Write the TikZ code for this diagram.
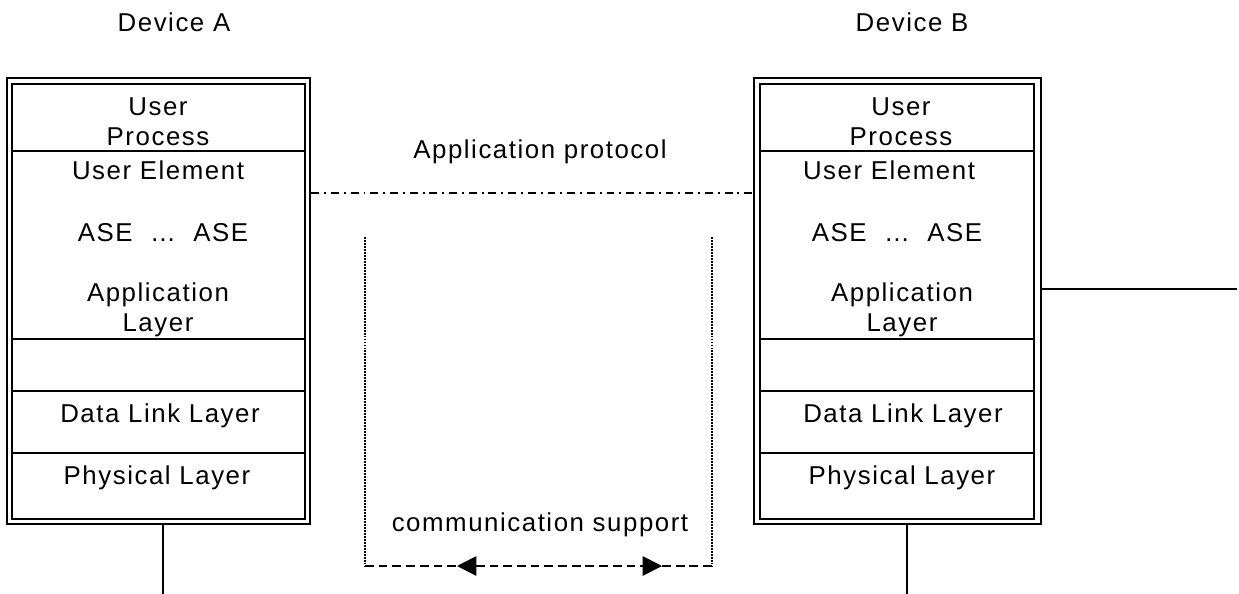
\documentclass[tikz,border=0pt]{standalone}
\usepackage{fontspec}
\setmainfont{Liberation Sans}[LetterSpace=6]
\usetikzlibrary{arrows.meta}

\begin{document}
\begin{tikzpicture}[x=0.02cm, y=-0.02cm, line cap=butt,
    >={Triangle[length=11pt, width=11pt]},
    font=\fontsize{14.7}{17}\selectfont,
    outerbox/.style={draw, line width=1.6pt, inner sep=0pt, minimum height=8.92cm},
    innerbox/.style={draw, line width=1.2pt, inner sep=0pt, minimum height=8.70cm},
    divider/.style={line width=1pt},
    layertext/.style={inner sep=0pt, align=center},
    protocol/.style={line width=1.2pt, dash pattern=on 4.5pt off 2.8pt on 1.1pt off 2.8pt},
    support/.style={line width=1.5pt, dash pattern=on 1.1pt off 0.6pt},
    carrier/.style={line width=1.1pt, dash pattern=on 5pt off 2.8pt},
    stem/.style={line width=0.9pt}]

    % Frame
    \useasboundingbox (0,0) rectangle (1239,594);

    % Device titles
    \node[layertext] (titleA) at (174,22) {Device A};
    \node[layertext] (titleB) at (912,22) {Device B};

    % Device A stack
    \node[outerbox, minimum width=6.06cm] (boxA) at (158.5,301) {};
    \node[innerbox, minimum width=5.86cm] (innerA) at (158.5,301.5) {};
    \foreach \y in {151,339,391,453}
        \draw[divider] (12,\y) -- (305,\y);
    \node[layertext] (procA) at (158,122) {User\\Process};
    \node[layertext] (elemA) at (158,170) {User Element};
    \node[layertext] (aseA) at (163,233) {ASE \ … \ ASE};
    \node[layertext] (applA) at (158,310) {Application\\Layer};
    \node[layertext] (linkA) at (160,416) {Data Link Layer};
    \node[layertext] (physA) at (157,478) {Physical Layer};

    % Device B stack
    \node[outerbox, minimum width=5.74cm] (boxB) at (897.5,301) {};
    \node[innerbox, minimum width=5.48cm] (innerB) at (897,301.5) {};
    \foreach \y in {151,339,391,453}
        \draw[divider] (760,\y) -- (1034,\y);
    \node[layertext] (procB) at (901,122) {User\\Process};
    \node[layertext] (elemB) at (889,170) {User Element};
    \node[layertext] (aseB) at (897,233) {ASE \ … \ ASE};
    \node[layertext] (applB) at (902,310) {Application\\Layer};
    \node[layertext] (linkB) at (903,416) {Data Link Layer};
    \node[layertext] (physB) at (902,478) {Physical Layer};

    % Application protocol
    \node[layertext] (proto) at (540,152) {Application protocol};
    \draw[protocol] (boxA.east |- 0,193) -- (boxB.west |- 0,193);

    % Communication support
    \coordinate (csTL) at (365,237);
    \coordinate (csBL) at (365,566);
    \coordinate (csTR) at (712,237);
    \coordinate (csBR) at (712,566);
    \coordinate (tipL) at (457,566);
    \coordinate (tipR) at (662,566);
    \draw[support] (csTL) -- (csBL);
    \draw[support] (csTR) -- (csBR);
    \draw[carrier] (csBL) -- (tipL);
    \draw[carrier, <->] (tipL) -- (tipR);
    \draw[carrier] (tipR) -- (csBR);
    \node[layertext] (comm) at (540,525) {communication support};

    % Links
    \coordinate (busA) at (163,594);
    \coordinate (busB) at (907,594);
    \coordinate (netB) at (1237,289);
    \draw[stem] (163,0 |- boxA.south) -- (busA);
    \draw[stem] (907,0 |- boxB.south) -- (busB);
    \draw[stem] (boxB.east |- 0,289) -- (netB);

\end{tikzpicture}
\end{document}
